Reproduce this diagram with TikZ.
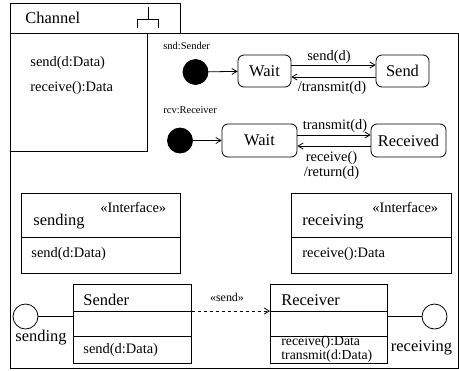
\documentclass[tikz,border=0pt]{standalone}
\usepackage{fontspec}
\setmainfont{Liberation Serif}
\newfontfamily\tms{Liberation Serif}
\usetikzlibrary{arrows.meta}
\begin{document}
\begin{tikzpicture}[x=1bp,y=-1bp,line width=0.8bp,
  bigtxt/.style={font=\tms\fontsize{16.5}{18}\selectfont,inner sep=0pt},
  midtxt/.style={font=\tms\fontsize{14.5}{15.5}\selectfont,inner sep=0pt},
  smalltxt/.style={font=\tms\fontsize{10.5}{12}\selectfont,inner sep=0pt},
  boxa/.style={draw,rectangle,inner sep=0pt,anchor=north west},
  statebox/.style={draw,rectangle,rounded corners=6bp,inner sep=0pt,font=\tms\fontsize{16.5}{18}\selectfont},
  initdot/.style={draw,circle,fill=black,minimum size=25bp,inner sep=0pt},
  lolly/.style={draw,circle,fill=white,minimum size=25bp,inner sep=0pt},
  tr/.style={-{Straight Barb[length=5bp,width=6bp]}}
]
\useasboundingbox (0,0) rectangle (459,370);
% frame
\node[boxa,minimum width=170bp,minimum height=30bp] (tab) at (10,3) {};
\node[boxa,minimum width=448bp,minimum height=335bp] (frame) at (10,33) {};
\node[boxa,minimum width=137bp,minimum height=118bp] (ops) at (10,33) {};
\node[bigtxt,anchor=west] (chname) at (25,18) {Channel};
\coordinate (ic) at (148,19);
\draw (137,28) -- (137,19) -- (158,19) -- (158,28);
\draw (ic) -- (148,7);
\node[midtxt,anchor=west] (op1) at (30,63) {send(d:Data)};
\node[midtxt,anchor=west] (op2) at (30,88) {receive():Data};
% sender state machine
\node[smalltxt,anchor=west] (sndlbl) at (163,46) {snd:Sender};
\node[initdot] (dot1) at (195.5,72) {};
\node[statebox,minimum width=53bp,minimum height=32bp] (wait1) at (264.5,71) {Wait};
\node[statebox,minimum width=53bp,minimum height=32bp] (send1) at (402.5,71) {Send};
\draw[tr] (dot1) -- (wait1);
\draw[tr] (wait1.east |- 0,65) -- (send1.west |- 0,65);
\draw[tr] (send1.west |- 0,77) -- (wait1.east |- 0,77);
\node[midtxt] (l1) at (329,57) {send(d)};
\node[midtxt] (l2) at (332,88) {/transmit(d)};
% receiver state machine
\node[smalltxt,anchor=west] (rcvlbl) at (163,110) {rcv:Receiver};
\node[initdot] (dot2) at (180,140.5) {};
\node[statebox,minimum width=75bp,minimum height=33bp] (wait2) at (259.5,140.5) {Wait};
\node[statebox,minimum width=75bp,minimum height=33bp] (recv2) at (408.5,140.5) {Received};
\draw[tr] (dot2) -- (wait2);
\draw[tr] (wait2.east |- 0,135) -- (recv2.west |- 0,135);
\draw[tr] (recv2.west |- 0,146) -- (wait2.east |- 0,146);
\node[midtxt] (l3) at (335,126) {transmit(d)};
\node[midtxt,align=center,font=\tms\fontsize{14.5}{15}\selectfont] (l4) at (331.5,165.5) {receive()\\/return(d)};
% interfaces
\node[boxa,minimum width=159bp,minimum height=80bp] (ifs) at (21,193) {};
\draw (ifs.west |- 0,237) -- (ifs.east |- 0,237);
\node[midtxt,anchor=west] (ifs1) at (100,207) {«Interface»};
\node[bigtxt,anchor=west] (ifs2) at (33,222) {sending};
\node[midtxt,anchor=west] (ifs3) at (31,254) {send(d:Data)};
\node[boxa,minimum width=160bp,minimum height=80bp] (ifr) at (291,193) {};
\draw (ifr.west |- 0,237) -- (ifr.east |- 0,237);
\node[midtxt,anchor=west] (ifr1) at (372,207) {«Interface»};
\node[bigtxt,anchor=west] (ifr2) at (302,222) {receiving};
\node[midtxt,anchor=west] (ifr3) at (302,254) {receive():Data};
% classes
\node[boxa,minimum width=118bp,minimum height=79bp] (sender) at (73,284) {};
\draw (sender.west |- 0,311) -- (sender.east |- 0,311);
\draw (sender.west |- 0,336) -- (sender.east |- 0,336);
\node[bigtxt,anchor=west] (sn1) at (83,300) {Sender};
\node[midtxt,anchor=west] (sn2) at (83,350) {send(d:Data)};
\node[boxa,minimum width=117bp,minimum height=79bp] (receiver) at (270,284) {};
\draw (receiver.west |- 0,311) -- (receiver.east |- 0,311);
\draw (receiver.west |- 0,336) -- (receiver.east |- 0,336);
\node[bigtxt,anchor=west] (rc1) at (281,300) {Receiver};
\node[midtxt,anchor=west,align=left,font=\tms\fontsize{13.8}{12}\selectfont] (rc2) at (281,349) {receive():Data\\transmit(d:Data)};
\draw[dashed,tr] (sender.east |- 0,311) -- (receiver.west |- 0,311);
\node[smalltxt,font=\tms\fontsize{12}{13}\selectfont] (dep) at (227,297) {«send»};
% lollipops
\node[lolly] (lps) at (25.5,316.5) {};
\node[lolly] (lpr) at (434.5,316.5) {};
\draw (lps.east) -- (lps.east -| sender.west);
\draw (receiver.east |- lpr.west) -- (lpr.west);
\node[bigtxt] (lpsl) at (41,338) {sending};
\node[bigtxt] (lprl) at (421.5,348) {receiving};
\end{tikzpicture}
\end{document}
